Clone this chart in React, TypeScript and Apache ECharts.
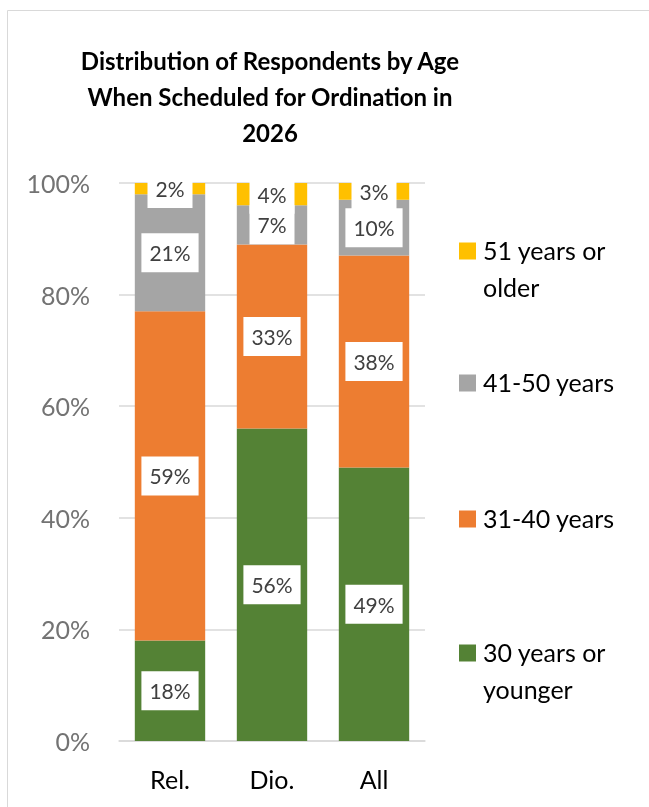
import React, { useEffect, useRef } from "react";
import * as echarts from "echarts";

const categories = ["Rel.", "Dio.", "All"];
const seriesNames = ["30 years or younger", "31-40 years", "41-50 years", "51 years or older"];
const legendLines = [["30 years or", "younger"], ["31-40 years"], ["41-50 years"], ["51 years or", "older"]];
const young = [18, 56, 49];
const age31to40 = [59, 33, 38];
const age41to50 = [21, 7, 10];
const older = [2, 4, 3];
const yTicks = [0, 20, 40, 60, 80, 100];
const colors = ["#548235", "#ED7D31", "#A5A5A5", "#FFC000"];
const titleLines = ["Distribution of Respondents by Age", "When Scheduled for Ordination in", "2026"];

export default function App() {
  const ref = useRef<HTMLDivElement>(null);
  useEffect(() => {
    if (!ref.current) return;
    const chart = echarts.init(ref.current, null, { renderer: "svg" });
    const values = [young, age31to40, age41to50, older];
    const font = "Lato, 'Noto Sans', sans-serif";
    const legendCenters = [653, 519, 383, 251];
    const legendGraphics: any[] = [];
    seriesNames.forEach((name, i) => {
      legendGraphics.push({
        type: "rect",
        shape: { x: 459, y: legendCenters[i] - 8.5, width: 17, height: 17 },
        style: { fill: colors[i] },
      });
      legendGraphics.push({
        type: "text",
        style: {
          text: legendLines[i].join("\n"),
          x: 483,
          y: legendCenters[i] - 19.5,
          fill: "#000000",
          font: `25px ${font}`,
          lineHeight: 37,
          verticalAlign: "top",
          textAlign: "left",
        },
      });
    });
    chart.setOption({
      animation: false,
      textStyle: { fontFamily: font },
      grid: { left: 119, right: 224, top: 183, bottom: 66 },
      xAxis: {
        type: "category",
        data: categories,
        axisLine: { show: true, lineStyle: { color: "#d9d9d9", width: 1.5 } },
        axisTick: { show: false },
        axisLabel: { color: "#000000", fontSize: 25, margin: 25, fontFamily: font },
      },
      yAxis: {
        type: "value",
        min: yTicks[0],
        max: yTicks[yTicks.length - 1],
        interval: 20,
        axisLine: { show: false },
        axisTick: { show: false },
        splitLine: { lineStyle: { color: "#d9d9d9", width: 1.5 } },
        axisLabel: { color: "#737373", fontSize: 25, margin: 29, formatter: "{value}%", fontFamily: font },
      },
      series: seriesNames.map((name, i) => ({
        name,
        type: "bar",
        stack: "total",
        data: values[i],
        barWidth: "69%",
        itemStyle: { color: colors[i] },
        label: {
          show: true,
          position: "inside",
          formatter: "{c}%",
          color: "#404040",
          fontSize: 21,
          fontFamily: font,
          backgroundColor: "#ffffff",
          padding: [9, 8],
        },
      })),
      graphic: [
        {
          type: "rect",
          shape: { x: 7.5, y: 10.5, width: 700, height: 900 },
          style: { fill: "none", stroke: "#d9d9d9", lineWidth: 1 },
          silent: true,
        },
        {
          type: "text",
          style: {
            text: titleLines.join("\n"),
            x: 270,
            y: 42,
            fill: "#000000",
            font: `bold 24px ${font}`,
            lineHeight: 36,
            textAlign: "center",
            verticalAlign: "top",
          },
        },
        ...legendGraphics,
      ],
    });
    return () => chart.dispose();
  }, []);
  return <div ref={ref} style={{ position: "fixed", left: 0, top: 0, width: 649, height: 807 }} />;
}
